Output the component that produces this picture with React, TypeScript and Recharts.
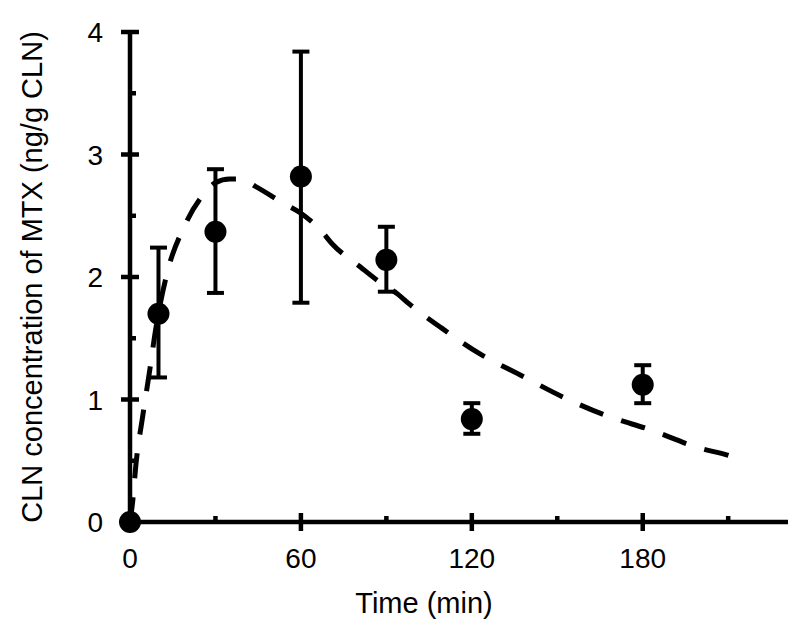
import { ComposedChart, Line, Scatter, ErrorBar, XAxis, YAxis } from 'recharts'

// measured points (min, ng/g CLN)
const sampleTimes = [0, 10, 30, 60, 90, 120, 180]
const meanConc = [0, 1.7, 2.37, 2.82, 2.14, 0.84, 1.12]
const lowConc = [0, 1.18, 1.87, 1.79, 1.88, 0.72, 0.97]
const highConc = [0, 2.24, 2.88, 3.84, 2.41, 0.97, 1.28]

// fitted curve
const curveTimes = [0, 1, 2, 4.5, 7, 9, 13, 19, 26, 30, 35, 39, 44, 54, 60, 67, 71, 81, 87, 94, 98, 109, 123, 137, 152, 167, 183, 199, 213, 216]
const curveConc = [0, 0.18, 0.45, 0.87, 1.25, 1.57, 2.03, 2.41, 2.68, 2.77, 2.8, 2.8, 2.74, 2.6, 2.52, 2.38, 2.27, 2.08, 1.97, 1.86, 1.78, 1.59, 1.37, 1.2, 1.02, 0.87, 0.75, 0.61, 0.52, 0.49]

const xTicks = [0, 30, 60, 90, 120, 150, 180, 210]
const yTicks = [0, 0.5, 1, 1.5, 2, 2.5, 3, 3.5, 4]

const points = sampleTimes.map((t, i) => ({
  t,
  c: meanConc[i],
  err: [meanConc[i] - lowConc[i], highConc[i] - meanConc[i]],
}))
const curve = curveTimes.map((t, i) => ({ t, fit: curveConc[i] }))

const font = '"Liberation Sans", Arial, sans-serif'

const XTick = (props: any) => {
  const { x, y, payload } = props
  const major = payload.value % 60 === 0
  return (
    <g>
      <line x1={x} x2={x} y1={major ? y - 9 : y - 6} y2={major ? y + 9 : y} stroke="#000" strokeWidth={4.5} />
      {major && (
        <text x={x} y={y + 46} textAnchor="middle" fontSize={28} fontFamily={font} fill="#000">
          {payload.value}
        </text>
      )}
    </g>
  )
}

const YTick = (props: any) => {
  const { x, y, payload } = props
  const major = payload.value % 1 === 0
  return (
    <g>
      <line x1={major ? x - 9 : x} x2={major ? x + 9 : x + 6} y1={y} y2={y} stroke="#000" strokeWidth={4.5} />
      {major && (
        <text x={x - 27} y={y + 10} textAnchor="end" fontSize={28} fontFamily={font} fill="#000">
          {payload.value}
        </text>
      )}
    </g>
  )
}

const Dot = (props: any) => <circle cx={props.cx} cy={props.cy} r={11} fill="#000" />

export default function App() {
  return (
    <div style={{ position: 'absolute', left: 0, top: 0, width: 799, height: 631, background: '#fff' }}>
      <ComposedChart width={799} height={631} margin={{ top: 32, right: 11, bottom: 0, left: 0 }}>
        <XAxis
          dataKey="t"
          type="number"
          domain={[0, 231]}
          ticks={xTicks}
          interval={0}
          tickSize={0}
          tickMargin={0}
          tickLine={false}
          tick={<XTick />}
          height={109}
          axisLine={{ stroke: '#000', strokeWidth: 4.5 }}
          label={{
            content: (p: any) => (
              <text
                x={p.viewBox.x + p.viewBox.width / 2 - 35}
                y={p.viewBox.y + 91}
                textAnchor="middle"
                fontSize={29}
                fontFamily={font}
                fill="#000"
              >
                Time (min)
              </text>
            ),
          }}
        />
        <YAxis
          type="number"
          domain={[0, 4]}
          ticks={yTicks}
          interval={0}
          tickSize={0}
          tickMargin={0}
          tickLine={false}
          tick={<YTick />}
          width={130}
          axisLine={{ stroke: '#000', strokeWidth: 4.5 }}
          label={{
            content: (p: any) => {
              const cx = 42
              const cy = p.viewBox.y + p.viewBox.height / 2
              return (
                <text
                  x={cx}
                  y={cy}
                  transform={`rotate(-90 ${cx} ${cy})`}
                  textAnchor="middle"
                  fontSize={29}
                  fontFamily={font}
                  fill="#000"
                >
                  CLN concentration of MTX (ng/g CLN)
                </text>
              )
            },
          }}
        />
        <Line
          data={curve}
          dataKey="fit"
          type="monotone"
          stroke="#000"
          strokeWidth={5}
          strokeDasharray="25 19"
          dot={false}
          activeDot={false}
          isAnimationActive={false}
        />
        <Scatter data={points} dataKey="c" shape={<Dot />} isAnimationActive={false}>
          <ErrorBar dataKey="err" direction="y" width={8.5} strokeWidth={4} stroke="#000" />
        </Scatter>
      </ComposedChart>
    </div>
  )
}
